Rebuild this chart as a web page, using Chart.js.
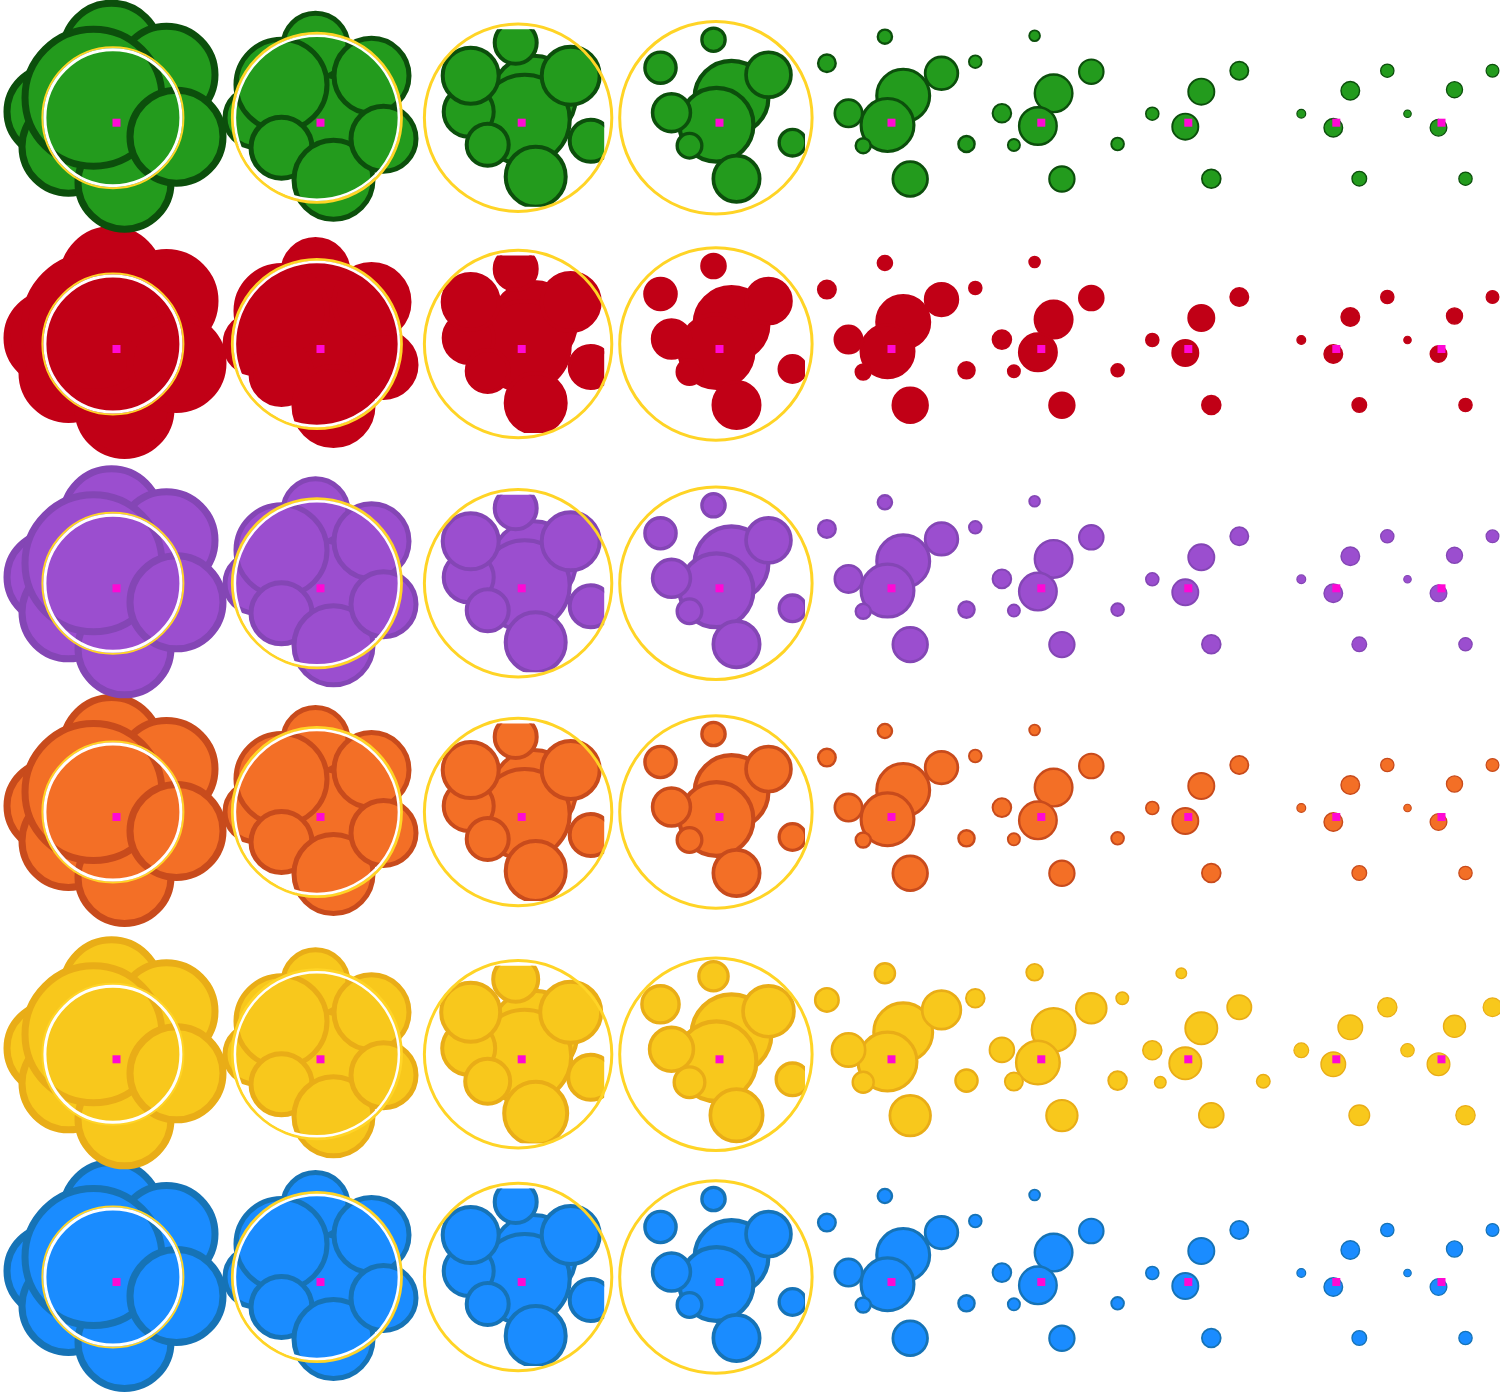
<!DOCTYPE html>
<html><head><meta charset="utf-8">
<style>html,body{margin:0;padding:0;background:#fff;}canvas{display:block;}</style>
<script src="https://cdn.jsdelivr.net/npm/chart.js@4.4.1/dist/chart.umd.min.js"></script>
</head><body>
<canvas id="c" width="1500" height="1393"></canvas>
<script>
// ---- categories ----
const rowNames = ['green', 'red', 'purple', 'orange', 'yellow', 'blue'];
const rowFill = ['#239b1d', '#c10016', '#9b4ecf', '#f36f26', '#f8c81c', '#1a8cff'];
const rowBorder = ['#0c4f0c', '#c10016', '#8446b5', '#c84b1c', '#e9ad17', '#1673b6'];
const rowCenters = [122.7, 349, 588.3, 817, 1059.3, 1282];
const colCenters = [116.5, 320.5, 521.7, 719.5, 891.5, 1041.3, 1188.3, 1336.3, 1441.5];
const colBorderWidth = [7, 5, 4, 3.5, 2.6, 2, 1.6, 1.2, 1.1];
const yellowBoost = [0, 0, 1.5, 3, 3, 3, 3, 3, 3];

// ---- bubble values per column: [dx, dy, size] ----
const col1 = [[-5,-71,52],[-65,-11,48],[-48,24,50],[8,60,50],[50,-48,52],[-23,-25,72],[60,14,50]];
const col2 = [[0,0,50],[-66,-5,32],[-5,-77,35],[51,-47,40],[-39,-38,48],[-39,25,33],[13,57,42],[63,16,35]];
const col3 = [[12,-25,44],[3,-3,47],[-6,-80,23],[-53,-11,27],[-51,-47,30],[49,-47,31],[-34,22,23],[69,18,23],[14,54,32]];
const col4 = [[12,-25,39],[-3,2,39],[-6,-83,13.3],[-59,-55,17.3],[49,-48,24.3],[-48,-10,20.7],[-30,23,14],[73,20,15],[17,56,25]];
const col5 = [[11.7,-27,28],[-4,2.3,28],[-6.6,-86,8.3],[-64.6,-59.4,10],[50,-49.4,17.7],[-43,-9.4,15],[-28.3,23,8.7],[75,21.3,9.3],[18.7,56.3,18.7]];
const col6 = [[12.3,-29.4,20],[-3.4,3.3,20],[-6.7,-87,6.3],[-66,-61,7.3],[50,-51,13.3],[-39.4,-9.4,10.3],[-27.4,22.3,7],[76.3,21.3,7.3],[20.6,56.3,13.7]];
const col7 = [[13,-31,14],[-3,4,14],[51,-52,10],[-36,-9,7.3],[23,56,10.3]];
const col7YellowExtra = [[-7,-86,3],[-66,-61,4],[-28,23,3.5],[75,22,4.5]];
const col8 = [[14,-32,10],[-3,5,10],[51,-52,7.3],[-35,-9,5],[23,56,8]];
const col9 = [[13,-33,8.7],[-3,5,9],[51,-52,7],[-34,-9,4.3],[24,56,7.3]];
const columns = [col1, col2, col3, col4, col5, col6, col7, col8, col9];

// ---- ring values: [column index, radius, width] ----
const ringsYellow = [[0, 70.5, 2], [1, 84.5, 3], [2, 93.7, 3], [3, 96.2, 3]];
const ringsWhite = [[0, 68, 3], [1, 82, 2.5]];
const ringOffset = [-3.6, -5];

const W = 1500, H = 1393;
const datasets = [];

function clipFor(c, cx, cy) {
  if (c === 2) return {left: false, top: -(cy - 93.5), right: -(W - (cx + 82.5)), bottom: -(H - (cy + 84))};
  if (c === 3) return {left: false, top: false, right: -(W - (cx + 85.5)), bottom: false};
  return false;
}

rowNames.forEach((name, ri) => {
  const cy = rowCenters[ri];
  columns.forEach((list, c) => {
    const cx = colCenters[c];
    let items = list.slice();
    if (ri === 4 && c === 6) items = items.concat(col7YellowExtra);
    const boost = ri === 4 ? yellowBoost[c] : 0;
    const maxR = Math.max(...list.map(b => b[2]));
    const bws = items.map(b => colBorderWidth[c] * (c >= 3 ? (0.8 + 0.4 * b[2] / maxR) : 1));
    datasets.push({
      label: name + ' ' + (c + 1),
      order: 10,
      data: items.map((b, i) => ({x: cx + b[0], y: cy + b[1], r: Math.max(1, b[2] + boost - bws[i] / 2)})),
      backgroundColor: rowFill[ri],
      borderColor: rowBorder[ri],
      borderWidth: bws,
      clip: clipFor(c, cx, cy)
    });
  });
  datasets.push({
    label: name + ' ring yellow', order: 5, clip: false,
    data: ringsYellow.map(r => ({x: colCenters[r[0]] + ringOffset[0], y: cy + ringOffset[1], r: r[1]})),
    backgroundColor: 'rgba(0,0,0,0)', borderColor: '#ffd426',
    borderWidth: ringsYellow.map(r => r[2])
  });
  datasets.push({
    label: name + ' ring white', order: 4, clip: false,
    data: ringsWhite.map(r => ({x: colCenters[r[0]] + ringOffset[0], y: cy + ringOffset[1], r: r[1]})),
    backgroundColor: 'rgba(0,0,0,0)', borderColor: '#ffffff',
    borderWidth: ringsWhite.map(r => r[2])
  });
  datasets.push({
    label: name + ' centers', order: 1, clip: false,
    data: colCenters.map(x => ({x: x, y: cy, r: 5.66})),
    pointStyle: 'rect', backgroundColor: '#ff08d4', borderWidth: 0
  });
});

new Chart(document.getElementById('c'), {
  type: 'bubble',
  data: {datasets},
  options: {
    responsive: false,
    animation: false,
    events: [],
    layout: {padding: 0, autoPadding: false},
    plugins: {legend: {display: false}, tooltip: {enabled: false}},
    scales: {
      x: {type: 'linear', min: 0, max: W, display: false},
      y: {type: 'linear', min: 0, max: H, reverse: true, display: false}
    }
  }
});
</script>
</body></html>
